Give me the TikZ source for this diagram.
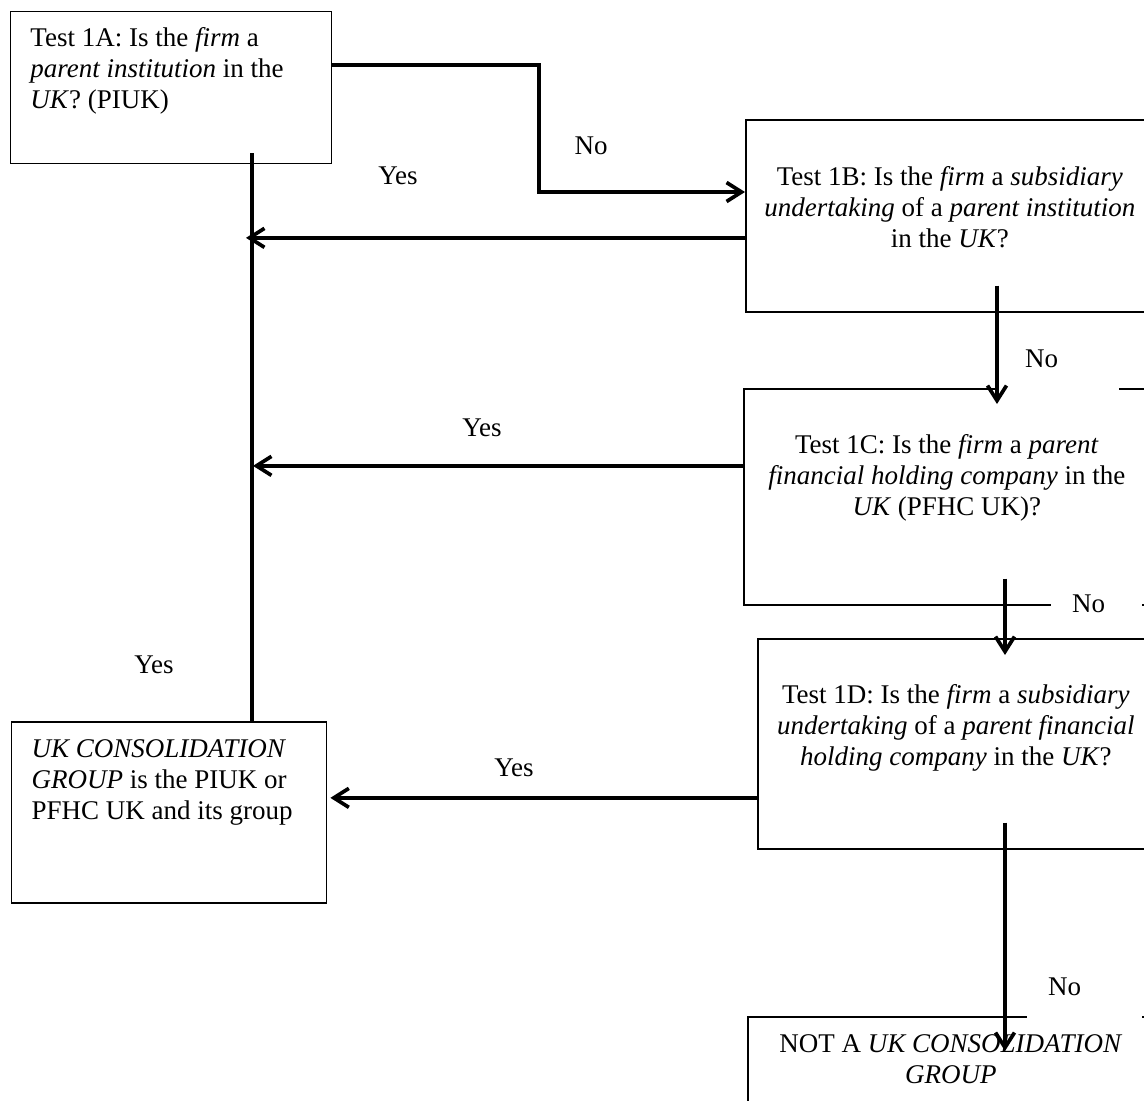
\documentclass[tikz,border=0pt]{standalone}
\usepackage{fontspec}
\setmainfont{Liberation Serif}
\usetikzlibrary{arrows.meta,calc}
\begin{document}
\begin{tikzpicture}[x=1pt,y=-1pt,
  txt/.style={font=\fontsize{27}{31}\selectfont},
  box/.style={txt, draw, line width=1.7pt, inner sep=0pt, anchor=north west},
  lbl/.style={txt, inner sep=0pt},
  nomask/.style={txt, fill=white, inner sep=0pt, anchor=base west},
  conn/.style={line width=3.7pt},
  arr/.style={line width=3.7pt, -{Straight Barb[length=15pt,width=19pt]}},
]
\useasboundingbox (0,0) rectangle (1144,1101);
\clip (0,0) rectangle (1144,1101);
\fill[white] (0,0) rectangle (1144,1101);

% boxes
\node[box] (a) at (9.6,10.7) {\parbox[c][152pt][t]{321pt}{\raggedright\leftskip=20pt\vspace*{13pt}\strut Test 1A: Is the \textit{firm} a\\ \textit{parent institution} in the\\ \textit{UK}? (PIUK)}};
\node[box] (b) at (745,119) {\parbox[c][192pt][t]{408pt}{\centering\vspace*{44pt}\strut Test 1B: Is the \textit{firm} a \textit{subsidiary}\\ \textit{undertaking} of a \textit{parent institution}\\ in the \textit{UK}?}};
\node[box] (c) at (743,388) {\parbox[c][216pt][t]{406pt}{\centering\vspace*{43pt}\strut Test 1C: Is the \textit{firm} a \textit{parent}\\ \textit{financial holding company} in the\\ \textit{UK} (PFHC UK)?}};
\node[box] (d) at (757,638) {\parbox[c][210pt][t]{396pt}{\centering\vspace*{43pt}\strut Test 1D: Is the \textit{firm} a \textit{subsidiary}\\ \textit{undertaking} of a \textit{parent financial}\\ \textit{holding company} in the \textit{UK}?}};
\node[box] (f) at (747,1016) {\parbox[c][120pt][t]{406pt}{\centering\vspace*{14pt}\strut NOT A \textit{UK CONSOLIDATION}\\ \textit{GROUP}}};
\node[box] (g) at (10.7,721) {\parbox[c][181pt][t]{315pt}{\raggedright\leftskip=20pt\vspace*{14pt}\strut \textit{UK CONSOLIDATION}\\ \textit{GROUP} is the PIUK or\\ PFHC UK and its group}};

% "No" labels with white backgrounds
\node[nomask] (n1) at (997,367) {\makebox[122pt][l]{\hspace*{28pt}\rule[-25pt]{0pt}{62pt}No}};
\node[nomask] (n2) at (1051,612) {\makebox[91pt][l]{\hspace*{21pt}\rule[-18pt]{0pt}{40pt}No}};
\node[nomask] (n3) at (1027,995) {\makebox[115pt][l]{\hspace*{21pt}\rule[-29pt]{0pt}{59pt}No}};

% other labels
\node[lbl] (n0) at (591,146) {No};
\node[lbl] (y1) at (398,176) {Yes};
\node[lbl] (y2) at (482,428) {Yes};
\node[lbl] (y3) at (514,768) {Yes};
\node[lbl] (y4) at (154,665) {Yes};

% helper coordinates
\coordinate (k1) at (539,192);
\coordinate (vt) at (252,153);
\coordinate (xb) at (997,0);
\coordinate (xc) at (1005,0);

% connectors
\draw[arr] ($(a.north east)+(0,54)$) -| (k1) -- (k1 -| b.west);
\draw[conn] (vt) -- (vt |- g.north);
\draw[arr] ($(b.west)+(0,22)$) coordinate (s2) -- ($(s2 -| vt)+(-6,0)$);
\draw[arr] ($(b.south -| xb)+(0,-27)$) -- ($(c.north -| xb)+(0,16)$);
\draw[arr] ($(c.west)+(0,-31)$) coordinate (s4) -- ($(s4 -| vt)+(1,0)$);
\draw[arr] ($(c.south -| xc)+(0,-27)$) -- ($(d.north -| xc)+(0,17)$);
\draw[arr] ($(d.west)+(0,54)$) coordinate (s6) -- ($(s6 -| g.east)+(3,0)$);
\draw[arr] ($(d.south -| xc)+(0,-27)$) -- ($(f.north -| xc)+(0,35)$);
\end{tikzpicture}
\end{document}
